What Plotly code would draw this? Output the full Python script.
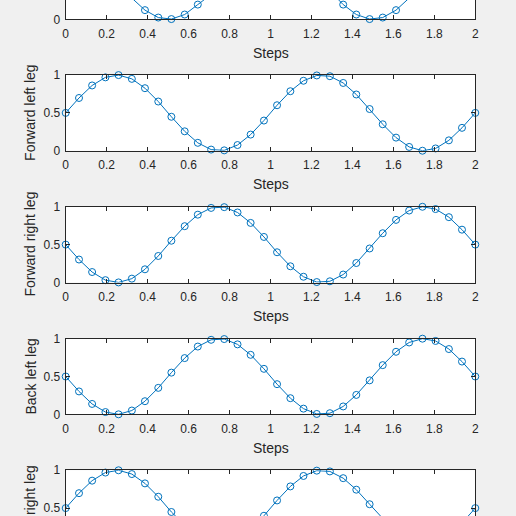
import plotly.graph_objects as go

# sample positions along the gait cycle
steps = [0, 0.065, 0.129, 0.194, 0.258, 0.323, 0.387, 0.452, 0.516, 0.581, 0.645,
         0.710, 0.774, 0.839, 0.903, 0.968, 1.032, 1.097, 1.161, 1.226, 1.290, 1.355,
         1.419, 1.484, 1.548, 1.613, 1.677, 1.742, 1.806, 1.871, 1.935, 2.0]

# top subplot, only its lower strip is in view
top_partial = [1.0, 0.960, 0.845, 0.674, 0.475, 0.280, 0.121, 0.023, 0.003, 0.063, 0.194,
               0.375, 0.576, 0.765, 0.910, 0.990, 0.990, 0.910, 0.765, 0.576, 0.375, 0.194,
               0.063, 0.003, 0.023, 0.121, 0.280, 0.475, 0.674, 0.845, 0.960, 1.0]
forward_left = [0.5, 0.697, 0.862, 0.969, 0.999, 0.949, 0.826, 0.650, 0.449, 0.257, 0.105,
                0.016, 0.006, 0.076, 0.214, 0.399, 0.601, 0.786, 0.924, 0.994, 0.984, 0.895,
                0.743, 0.551, 0.350, 0.174, 0.051, 0.001, 0.031, 0.138, 0.303, 0.5]
forward_right = [0.5, 0.303, 0.138, 0.031, 0.001, 0.051, 0.174, 0.350, 0.551, 0.743, 0.895,
                 0.984, 0.994, 0.924, 0.786, 0.601, 0.399, 0.214, 0.076, 0.006, 0.016, 0.105,
                 0.257, 0.449, 0.650, 0.826, 0.949, 0.999, 0.969, 0.862, 0.697, 0.5]
back_left = [0.5, 0.303, 0.138, 0.031, 0.001, 0.051, 0.174, 0.350, 0.551, 0.743, 0.895,
             0.984, 0.994, 0.924, 0.786, 0.601, 0.399, 0.214, 0.076, 0.006, 0.016, 0.105,
             0.257, 0.449, 0.650, 0.826, 0.949, 0.999, 0.969, 0.862, 0.697, 0.5]
back_right = [0.5, 0.697, 0.862, 0.969, 0.999, 0.949, 0.826, 0.650, 0.449, 0.257, 0.105,
              0.016, 0.006, 0.076, 0.214, 0.399, 0.601, 0.786, 0.924, 0.994, 0.984, 0.895,
              0.743, 0.551, 0.350, 0.174, 0.051, 0.001, 0.031, 0.138, 0.303, 0.5]

series = [top_partial, forward_left, forward_right, back_left, back_right]
ylabels = ["", "Forward left leg", "Forward right leg", "Back left leg", "Back right leg"]
x_ticks = [0, 0.2, 0.4, 0.6, 0.8, 1, 1.2, 1.4, 1.6, 1.8, 2]
x_ticktext = ["0", "0.2", "0.4", "0.6", "0.8", "1", "1.2", "1.4", "1.6", "1.8", "2"]
y_ticks = [0, 0.5, 1]
y_ticktext = ["0", "0.5", "1"]

W = H = 516
BLUE = "#0072BD"
INK = "#262626"
FONT = "Liberation Sans, Arial, sans-serif"

# pixel geometry of the (cropped) matlab figure
ax_left, ax_right = 65.7, 475.3
ax_h = 75.8
tops = [19.3 - ax_h, 75.0, 206.7, 338.6, 470.2]

fig = go.Figure()
annotations = []
for i, (ys, lab) in enumerate(zip(series, ylabels)):
    n = "" if i == 0 else str(i + 1)
    top_px, bot_px = tops[i], tops[i] + ax_h
    vis_top, vis_bot = max(top_px, 0), min(bot_px, H)
    dom = [1 - vis_bot / H, 1 - vis_top / H]
    yr = [(bot_px - vis_bot) / ax_h, 1 - (vis_top - top_px) / ax_h]

    fig.add_trace(go.Scatter(x=steps, y=ys, mode="lines+markers", cliponaxis=False,
                             line=dict(color=BLUE, width=1),
                             marker=dict(symbol="circle-open", size=7, color=BLUE,
                                         line=dict(width=1, color=BLUE)),
                             xaxis="x" + n, yaxis="y" + n, showlegend=False))

    last = i == len(series) - 1
    xa = dict(domain=[ax_left / W, ax_right / W], range=[0, 2], anchor="y" + n,
              tickvals=x_ticks, ticktext=x_ticktext, ticks="inside", ticklen=4,
              tickcolor=INK, showline=True, linecolor=INK, linewidth=1,
              showgrid=False, zeroline=False, fixedrange=True, automargin=False,
              ticklabelstandoff=3,
              tickfont=dict(family=FONT, size=12, color=INK))
    if last:
        xa.update(side="top", showticklabels=False, mirror=False)
    elif i == 0:
        xa.update(mirror=False)
    else:
        xa.update(mirror="ticks")
    ya = dict(domain=dom, range=yr, anchor="x" + n, tickvals=y_ticks, ticktext=y_ticktext,
              ticks="inside", ticklen=4, tickcolor=INK, showline=True, linecolor=INK,
              linewidth=1, mirror="ticks", showgrid=False, zeroline=False, fixedrange=True,
              automargin=False, ticklabelstandoff=2,
              tickfont=dict(family=FONT, size=12, color=INK))
    fig.layout["xaxis" + n] = xa
    fig.layout["yaxis" + n] = ya

    if not last:
        annotations.append(dict(text="Steps", xref="paper", yref="paper",
                                x=(ax_left + ax_right) / 2 / W, y=1 - (bot_px + 33.4) / H,
                                xanchor="center", yanchor="middle", showarrow=False,
                                font=dict(family=FONT, size=14, color=INK)))
    if lab:
        annotations.append(dict(text=lab, xref="paper", yref="paper", textangle=-90,
                                x=30 / W, y=1 - (top_px + ax_h / 2) / H,
                                xanchor="center", yanchor="middle", showarrow=False,
                                font=dict(family=FONT, size=14, color=INK)))

fig.update_layout(width=W, height=H, margin=dict(l=0, r=0, t=0, b=0),
                  paper_bgcolor="#F0F0F0", plot_bgcolor="white",
                  annotations=annotations)
# drop the page's default body margin so the 516px figure fills the window exactly
fig.write_html("out.html", config={"displayModeBar": False},
               post_script="document.body.style.margin='0';"
                           "document.body.style.background='#F0F0F0';"
                           "document.body.style.overflow='hidden';")
